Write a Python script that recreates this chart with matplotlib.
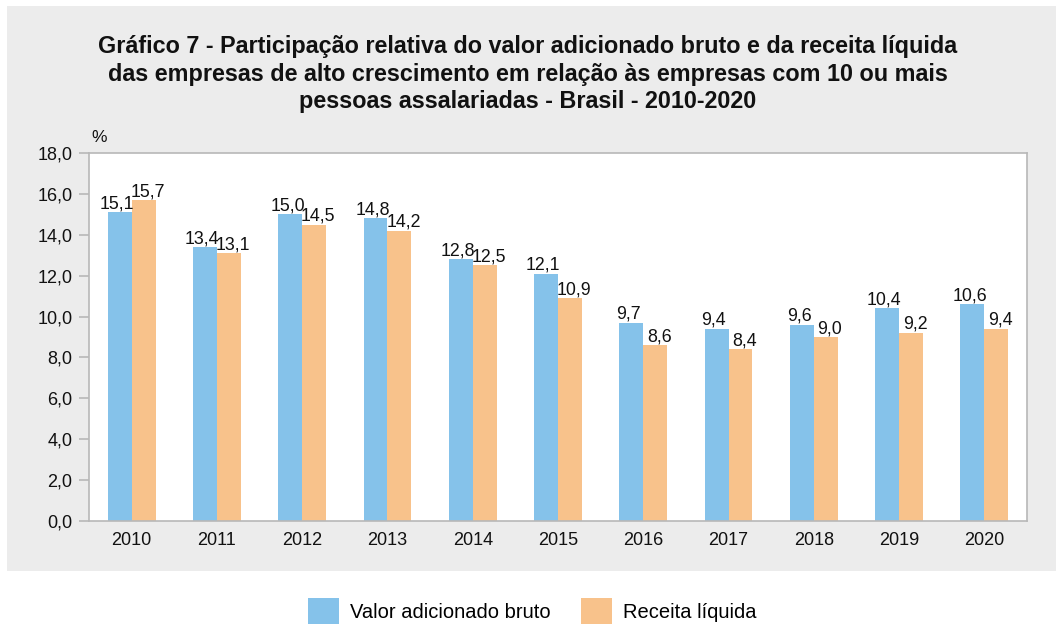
import matplotlib
matplotlib.use("Agg")
import matplotlib.pyplot as plt
from matplotlib.patches import Rectangle
import numpy as np

plt.rcParams['font.family'] = ['Liberation Sans', 'DejaVu Sans']

years = ["2010", "2011", "2012", "2013", "2014", "2015", "2016", "2017", "2018", "2019", "2020"]
valor_adicionado = [15.1, 13.4, 15.0, 14.8, 12.8, 12.1, 9.7, 9.4, 9.6, 10.4, 10.6]
receita_liquida = [15.7, 13.1, 14.5, 14.2, 12.5, 10.9, 8.6, 8.4, 9.0, 9.2, 9.4]
yticks = [0, 2, 4, 6, 8, 10, 12, 14, 16, 18]

blue = "#85C2EA"
orange = "#F8C28B"
spine_c = "#B8B8B8"

W, H = 1056, 626
fig = plt.figure(figsize=(W / 100, H / 100), dpi=100, facecolor="white")

# gray panel
fig.patches.append(Rectangle((7 / W, 1 - 571 / H), 1 - 7 / W, (571 - 6) / H,
                             transform=fig.transFigure, facecolor="#ECECEC",
                             edgecolor="none", zorder=-10))

ax = fig.add_axes([89 / W, 1 - 521 / H, (1027 - 89) / W, (521 - 153) / H])
ax.set_zorder(1)
ax.set_facecolor("white")

x = np.arange(len(years))
bw = 0.28
ax.bar(x - bw / 2, valor_adicionado, bw, color=blue, label="Valor adicionado bruto", zorder=2)
ax.bar(x + bw / 2, receita_liquida, bw, color=orange, label="Receita líquida", zorder=2)

def fmt(v):
    return f"{v:.1f}".replace(".", ",")

for xi, v in zip(x, valor_adicionado):
    ax.annotate(fmt(v), (xi - bw / 2, v), xytext=(-2, 0), textcoords="offset points",
                ha="center", va="bottom", fontsize=12.8, color="#111111")
for xi, v in zip(x, receita_liquida):
    ax.annotate(fmt(v), (xi + bw / 2, v), xytext=(3, 0), textcoords="offset points",
                ha="center", va="bottom", fontsize=12.8, color="#111111")

ax.set_xlim(-0.5, len(years) - 0.5)
ax.set_ylim(0, 18)
ax.set_yticks(yticks)
ax.set_yticklabels([fmt(t) for t in yticks], fontsize=13, color="#111111")
ax.set_xticks(x)
ax.set_xticklabels(years, fontsize=13, color="#111111")
ax.tick_params(axis="x", length=0, pad=8)
ax.tick_params(axis="y", length=7, width=1.2, color=spine_c, pad=5)
for s in ax.spines.values():
    s.set_color(spine_c)
    s.set_linewidth(1.2)

fig.text(91 / W, 1 - 137 / H, "%", fontsize=12.5, ha="left", va="center", color="#111111")

fig.text(528 / W, 1 - 74 / H,
         "Gráfico 7 - Participação relativa do valor adicionado bruto e da receita líquida\n"
         "das empresas de alto crescimento em relação às empresas com 10 ou mais\n"
         "pessoas assalariadas - Brasil - 2010-2020",
         fontsize=16.8, fontweight="bold", ha="center", va="center",
         linespacing=1.23, color="#111111")

handles, labels = ax.get_legend_handles_labels()
fig.legend(handles, labels, loc="center", bbox_to_anchor=(532 / W, 1 - 611 / H),
           ncol=2, frameon=False, fontsize=14.5, handlelength=1.55, handleheight=1.55,
           handletextpad=0.55, columnspacing=1.5)

fig.savefig("out.png", dpi=100, facecolor="white")
